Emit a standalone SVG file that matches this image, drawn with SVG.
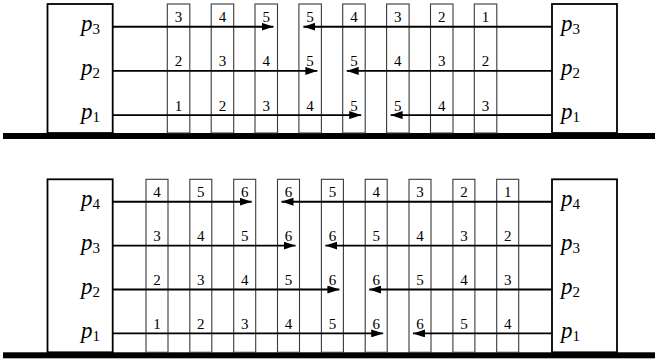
<svg xmlns="http://www.w3.org/2000/svg" width="655" height="362" viewBox="0 0 655 362">
<style>
.box{fill:#fff;stroke:#000;stroke-width:1.8}
.col{fill:none;stroke:#3a3a3a;stroke-width:1.1}
.bar{fill:#000}
.arr{fill:none;stroke:#000;stroke-width:1.9;marker-end:url(#ah)}
.num{font-family:'Liberation Serif',serif;font-size:15px;text-anchor:middle;fill:#000}
.lab{font-family:'Liberation Serif',serif;font-size:23px;fill:#000}
.s{font-style:normal;font-size:15px}
</style>
<defs>
<marker id="ah" viewBox="0 0 12 8" refX="12" refY="4" markerWidth="12" markerHeight="8" markerUnits="userSpaceOnUse" orient="auto"><path d="M0,0 L12,4 L0,8 z" fill="#000"/></marker>
</defs>

<!-- TOP DIAGRAM -->
<g id="top-ground"><rect class="bar" x="3" y="133" width="652" height="6"/></g>
<g id="top-left-box"><rect class="box" x="47.5" y="4" width="65.2" height="129"/>
<text class="lab" x="100" y="31" text-anchor="end"><tspan font-style="italic">p</tspan><tspan class="s" dy="3">3</tspan></text>
<text class="lab" x="100" y="75" text-anchor="end"><tspan font-style="italic">p</tspan><tspan class="s" dy="3">2</tspan></text>
<text class="lab" x="100" y="119" text-anchor="end"><tspan font-style="italic">p</tspan><tspan class="s" dy="3">1</tspan></text>
</g>
<g id="top-right-box"><rect class="box" x="552" y="4" width="65" height="129"/>
<text class="lab" x="561" y="31"><tspan font-style="italic">p</tspan><tspan class="s" dy="3">3</tspan></text>
<text class="lab" x="561" y="75"><tspan font-style="italic">p</tspan><tspan class="s" dy="3">2</tspan></text>
<text class="lab" x="561" y="119"><tspan font-style="italic">p</tspan><tspan class="s" dy="3">1</tspan></text>
</g>
<g id="top-columns">
<g id="tc1"><rect class="col" x="167.3" y="4" width="22.5" height="129"/><text class="num" x="178.5" y="22">3</text><text class="num" x="178.5" y="66.3">2</text><text class="num" x="178.5" y="110.5">1</text></g>
<g id="tc2"><rect class="col" x="211.2" y="4" width="22.5" height="129"/><text class="num" x="222.4" y="22">4</text><text class="num" x="222.4" y="66.3">3</text><text class="num" x="222.4" y="110.5">2</text></g>
<g id="tc3"><rect class="col" x="255.0" y="4" width="22.5" height="129"/><text class="num" x="266.3" y="22">5</text><text class="num" x="266.3" y="66.3">4</text><text class="num" x="266.3" y="110.5">3</text></g>
<g id="tc4"><rect class="col" x="298.9" y="4" width="22.5" height="129"/><text class="num" x="310.1" y="22">5</text><text class="num" x="310.1" y="66.3">5</text><text class="num" x="310.1" y="110.5">4</text></g>
<g id="tc5"><rect class="col" x="342.7" y="4" width="22.5" height="129"/><text class="num" x="354.0" y="22">4</text><text class="num" x="354.0" y="66.3">5</text><text class="num" x="354.0" y="110.5">5</text></g>
<g id="tc6"><rect class="col" x="386.6" y="4" width="22.5" height="129"/><text class="num" x="397.8" y="22">3</text><text class="num" x="397.8" y="66.3">4</text><text class="num" x="397.8" y="110.5">5</text></g>
<g id="tc7"><rect class="col" x="430.5" y="4" width="22.5" height="129"/><text class="num" x="441.7" y="22">2</text><text class="num" x="441.7" y="66.3">3</text><text class="num" x="441.7" y="110.5">4</text></g>
<g id="tc8"><rect class="col" x="474.3" y="4" width="22.5" height="129"/><text class="num" x="485.6" y="22">1</text><text class="num" x="485.6" y="66.3">2</text><text class="num" x="485.6" y="110.5">3</text></g>
</g>

<!-- BOTTOM DIAGRAM -->
<g id="bottom-ground"><rect class="bar" x="3" y="352.3" width="652" height="6"/></g>
<g id="bottom-left-box"><rect class="box" x="47.5" y="179.3" width="65.2" height="173"/>
<text class="lab" x="100" y="206" text-anchor="end"><tspan font-style="italic">p</tspan><tspan class="s" dy="3">4</tspan></text>
<text class="lab" x="100" y="250" text-anchor="end"><tspan font-style="italic">p</tspan><tspan class="s" dy="3">3</tspan></text>
<text class="lab" x="100" y="294" text-anchor="end"><tspan font-style="italic">p</tspan><tspan class="s" dy="3">2</tspan></text>
<text class="lab" x="100" y="338" text-anchor="end"><tspan font-style="italic">p</tspan><tspan class="s" dy="3">1</tspan></text>
</g>
<g id="bottom-right-box"><rect class="box" x="552" y="179.3" width="65" height="173"/>
<text class="lab" x="561" y="206"><tspan font-style="italic">p</tspan><tspan class="s" dy="3">4</tspan></text>
<text class="lab" x="561" y="250"><tspan font-style="italic">p</tspan><tspan class="s" dy="3">3</tspan></text>
<text class="lab" x="561" y="294"><tspan font-style="italic">p</tspan><tspan class="s" dy="3">2</tspan></text>
<text class="lab" x="561" y="338"><tspan font-style="italic">p</tspan><tspan class="s" dy="3">1</tspan></text>
</g>
<g id="bottom-columns">
<g id="bc1"><rect class="col" x="146.0" y="179.3" width="22" height="173"/><text class="num" x="157.0" y="197.2">4</text><text class="num" x="157.0" y="241.1">3</text><text class="num" x="157.0" y="285">2</text><text class="num" x="157.0" y="328.9">1</text></g>
<g id="bc2"><rect class="col" x="189.8" y="179.3" width="22" height="173"/><text class="num" x="200.8" y="197.2">5</text><text class="num" x="200.8" y="241.1">4</text><text class="num" x="200.8" y="285">3</text><text class="num" x="200.8" y="328.9">2</text></g>
<g id="bc3"><rect class="col" x="233.7" y="179.3" width="22" height="173"/><text class="num" x="244.7" y="197.2">6</text><text class="num" x="244.7" y="241.1">5</text><text class="num" x="244.7" y="285">4</text><text class="num" x="244.7" y="328.9">3</text></g>
<g id="bc4"><rect class="col" x="277.5" y="179.3" width="22" height="173"/><text class="num" x="288.5" y="197.2">6</text><text class="num" x="288.5" y="241.1">6</text><text class="num" x="288.5" y="285">5</text><text class="num" x="288.5" y="328.9">4</text></g>
<g id="bc5"><rect class="col" x="321.4" y="179.3" width="22" height="173"/><text class="num" x="332.4" y="197.2">5</text><text class="num" x="332.4" y="241.1">6</text><text class="num" x="332.4" y="285">6</text><text class="num" x="332.4" y="328.9">5</text></g>
<g id="bc6"><rect class="col" x="365.2" y="179.3" width="22" height="173"/><text class="num" x="376.2" y="197.2">4</text><text class="num" x="376.2" y="241.1">5</text><text class="num" x="376.2" y="285">6</text><text class="num" x="376.2" y="328.9">6</text></g>
<g id="bc7"><rect class="col" x="409.0" y="179.3" width="22" height="173"/><text class="num" x="420.0" y="197.2">3</text><text class="num" x="420.0" y="241.1">4</text><text class="num" x="420.0" y="285">5</text><text class="num" x="420.0" y="328.9">6</text></g>
<g id="bc8"><rect class="col" x="452.9" y="179.3" width="22" height="173"/><text class="num" x="463.9" y="197.2">2</text><text class="num" x="463.9" y="241.1">3</text><text class="num" x="463.9" y="285">4</text><text class="num" x="463.9" y="328.9">5</text></g>
<g id="bc9"><rect class="col" x="496.7" y="179.3" width="22" height="173"/><text class="num" x="507.7" y="197.2">1</text><text class="num" x="507.7" y="241.1">2</text><text class="num" x="507.7" y="285">3</text><text class="num" x="507.7" y="328.9">4</text></g>
</g>

<g id="connectors">
<path class="arr" d="M112.7,26.7 H273.5"/>
<path class="arr" d="M552,26.7 H303.4"/>
<path class="arr" d="M112.7,70.9 H317.4"/>
<path class="arr" d="M552,70.9 H346.7"/>
<path class="arr" d="M112.7,115.1 H361.2"/>
<path class="arr" d="M552,115.1 H390.6"/>

<path class="arr" d="M112.7,201.7 H251.7"/>
<path class="arr" d="M552,201.7 H281.5"/>
<path class="arr" d="M112.7,245.6 H295.5"/>
<path class="arr" d="M552,245.6 H325.4"/>
<path class="arr" d="M112.7,289.5 H339.4"/>
<path class="arr" d="M552,289.5 H369.2"/>
<path class="arr" d="M112.7,333.4 H383.2"/>
<path class="arr" d="M552,333.4 H413"/>
</g>
</svg>
